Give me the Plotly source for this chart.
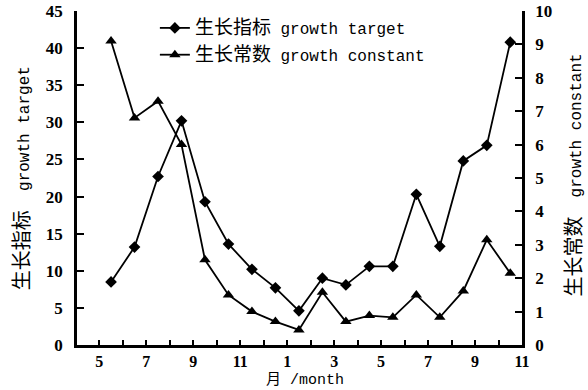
import plotly.graph_objects as go

# Months: May of year 1 through November of year 2 (axis index 0..18)
month_ticks = [0, 2, 4, 6, 8, 10, 12, 14, 16, 18]
month_labels = ["5", "7", "9", "11", "1", "3", "5", "7", "9", "11"]

# Observations are taken at mid-month, May (yr 1) .. Oct (yr 2)
obs_pos = [k + 0.5 for k in range(18)]

growth_target = [8.5, 13.2, 22.7, 30.2, 19.3, 13.6, 10.2, 7.7, 4.6,
                 9.0, 8.1, 10.6, 10.6, 20.3, 13.3, 24.8, 26.9, 40.8]
growth_constant = [9.1, 6.8, 7.3, 6.0, 2.55, 1.5, 1.0, 0.7, 0.45,
                   1.58, 0.7, 0.88, 0.83, 1.5, 0.83, 1.62, 3.15, 2.15]

TICK_FONT = dict(family="Liberation Serif, Noto Sans CJK SC", size=17,
                 color="black", weight="bold")
TEXT_FONT = "Liberation Mono, Noto Sans CJK SC"

fig = go.Figure()
fig.add_trace(go.Scatter(
    x=obs_pos, y=growth_target, mode="lines+markers",
    name="<span style='font-size:19px'>生长指标</span> growth target",
    legendgroup="a",
    line=dict(color="black", width=1.8),
    marker=dict(symbol="diamond", size=9, color="black"),
    yaxis="y",
))
fig.add_trace(go.Scatter(
    x=obs_pos, y=growth_constant, mode="lines+markers",
    name="<span style='font-size:19px'>生长常数</span> growth constant",
    legendgroup="b",
    line=dict(color="black", width=1.8),
    marker=dict(symbol="triangle-up", size=10, color="black"),
    yaxis="y2",
))

axis_common = dict(
    automargin=False, tickcolor="black", tickwidth=1.5,
    showline=True, linecolor="black", linewidth=2.5,
    showgrid=False, zeroline=False,
)

fig.update_layout(
    width=588, height=390,
    margin=dict(l=77, r=66, t=11, b=45),
    paper_bgcolor="white", plot_bgcolor="white",
    showlegend=True,
    legend=dict(
        x=0.175, y=1.0, xanchor="left", yanchor="top",
        bgcolor="rgba(0,0,0,0)", itemwidth=30, tracegroupgap=3,
        font=dict(family=TEXT_FONT, size=16, color="black"),
    ),
    xaxis=dict(
        range=[-0.95, 18.0],
        tickmode="array", tickvals=month_ticks, ticktext=month_labels,
        ticks="inside", ticklen=5,
        minor=dict(ticks="inside", dtick=1, tick0=0, ticklen=5,
                   tickwidth=1.5, tickcolor="black"),
        ticklabelstandoff=0, tickfont={**TICK_FONT, "size": 16},
        **axis_common,
    ),
    yaxis=dict(
        range=[0, 45], tickmode="linear", tick0=0, dtick=5,
        ticks="inside", ticklen=7, ticklabelstandoff=8, tickfont=TICK_FONT,
        **axis_common,
    ),
    yaxis2=dict(
        range=[0, 10], tickmode="linear", tick0=0, dtick=1,
        overlaying="y", side="right",
        ticks="inside", ticklen=7, ticklabelstandoff=7, tickfont=TICK_FONT,
        **axis_common,
    ),
)

# Axis titles
title_font = dict(family=TEXT_FONT, size=16, color="black")
fig.add_annotation(
    text="月 /month", xref="paper", yref="paper", x=0.512, y=-0.1335,
    xanchor="center", yanchor="bottom", showarrow=False, borderpad=0,
    font=dict(family=TEXT_FONT, size=15, color="black"),
)
fig.add_annotation(
    text="<span style='font-size:20px'>生长指标</span>  growth target",
    xref="paper", yref="paper", x=-0.121, y=0.5, textangle=-90,
    xanchor="center", yanchor="middle", showarrow=False, font=title_font,
)
fig.add_annotation(
    text="<span style='font-size:20px'>生长常数</span>  growth constant",
    xref="paper", yref="paper", x=1.119, y=0.51, textangle=-90,
    xanchor="center", yanchor="middle", showarrow=False, font=title_font,
)

fig.write_html("out.html")
